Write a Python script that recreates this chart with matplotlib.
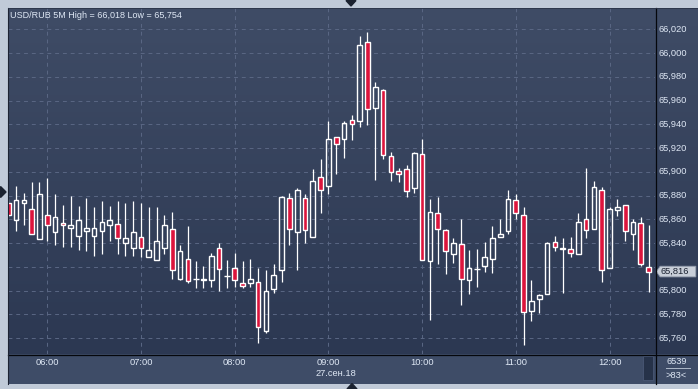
import numpy as np
import pandas as pd
import matplotlib
matplotlib.use("Agg")
import matplotlib.pyplot as plt
from matplotlib.patches import Rectangle, Polygon
from matplotlib.colors import LinearSegmentedColormap

# --- USD/RUB 5M candles, 27.09.2018 05:35 .. 12:25 ---
times = pd.date_range("2018-09-27 05:35", periods=83, freq="5min")

opens = [65.874, 65.859, 65.874, 65.869, 65.843, 65.864, 65.849, 65.857, 65.853, 65.846,
         65.850, 65.846, 65.850, 65.855, 65.856, 65.840, 65.836, 65.845, 65.828, 65.826,
         65.836, 65.852, 65.810, 65.827, 65.810, 65.809, 65.809, 65.836, 65.812, 65.819,
         65.806, 65.806, 65.807, 65.766, 65.801, 65.817, 65.878, 65.849, 65.878, 65.845,
         65.896, 65.888, 65.929, 65.928, 65.944, 65.943, 66.009, 65.954, 65.969, 65.913,
         65.901, 65.902, 65.886, 65.915, 65.825, 65.865, 65.851, 65.831, 65.839, 65.809,
         65.818, 65.821, 65.827, 65.845, 65.850, 65.876, 65.864, 65.783, 65.793, 65.797,
         65.841, 65.835, 65.835, 65.831, 65.860, 65.852, 65.885, 65.819, 65.868, 65.872,
         65.848, 65.857, 65.820]
highs = [65.877, 65.888, 65.882, 65.891, 65.891, 65.895, 65.881, 65.872, 65.880, 65.871,
         65.878, 65.870, 65.875, 65.871, 65.875, 65.874, 65.875, 65.874, 65.870, 65.870,
         65.864, 65.866, 65.838, 65.854, 65.825, 65.821, 65.832, 65.840, 65.826, 65.832,
         65.825, 65.827, 65.819, 65.817, 65.822, 65.880, 65.882, 65.886, 65.881, 65.902,
         65.911, 65.943, 65.929, 65.943, 65.948, 66.014, 66.018, 65.976, 65.970, 65.917,
         65.903, 65.906, 65.917, 65.928, 65.877, 65.879, 65.852, 65.844, 65.860, 65.834,
         65.835, 65.841, 65.854, 65.860, 65.885, 65.881, 65.870, 65.809, 65.797, 65.841,
         65.846, 65.844, 65.845, 65.865, 65.903, 65.892, 65.887, 65.870, 65.877, 65.872,
         65.860, 65.862, 65.855]
lows = [65.862, 65.850, 65.855, 65.848, 65.843, 65.842, 65.838, 65.837, 65.837, 65.834,
        65.833, 65.829, 65.831, 65.842, 65.831, 65.829, 65.829, 65.828, 65.828, 65.826,
        65.831, 65.810, 65.809, 65.806, 65.802, 65.802, 65.803, 65.800, 65.802, 65.803,
        65.802, 65.803, 65.756, 65.764, 65.798, 65.807, 65.838, 65.817, 65.840, 65.845,
        65.865, 65.881, 65.898, 65.912, 65.927, 65.938, 65.939, 65.893, 65.911, 65.892,
        65.891, 65.879, 65.882, 65.826, 65.775, 65.822, 65.814, 65.823, 65.788, 65.797,
        65.803, 65.816, 65.815, 65.845, 65.848, 65.860, 65.754, 65.774, 65.781, 65.797,
        65.833, 65.798, 65.828, 65.831, 65.844, 65.852, 65.807, 65.819, 65.863, 65.842,
        65.834, 65.821, 65.799]
closes = [65.864, 65.876, 65.876, 65.848, 65.881, 65.855, 65.862, 65.855, 65.855, 65.859,
          65.853, 65.853, 65.858, 65.859, 65.844, 65.844, 65.849, 65.836, 65.834, 65.842,
          65.855, 65.817, 65.833, 65.808, 65.810, 65.810, 65.829, 65.818, 65.812, 65.809,
          65.804, 65.810, 65.769, 65.800, 65.813, 65.879, 65.852, 65.885, 65.851, 65.892,
          65.885, 65.928, 65.923, 65.941, 65.940, 66.007, 65.953, 65.971, 65.914, 65.900,
          65.898, 65.884, 65.916, 65.826, 65.866, 65.852, 65.833, 65.840, 65.810, 65.819,
          65.818, 65.828, 65.844, 65.848, 65.877, 65.865, 65.782, 65.791, 65.796, 65.840,
          65.837, 65.836, 65.832, 65.858, 65.851, 65.887, 65.817, 65.869, 65.870, 65.850,
          65.858, 65.822, 65.816]

price_ticks = [65.760, 65.780, 65.800, 65.820, 65.840, 65.860, 65.880, 65.900,
               65.920, 65.940, 65.960, 65.980, 66.000, 66.020]
title = "USD/RUB 5M High = 66,018 Low = 65,754"
date_label = "27.сен.18"
bars_total = "6539"
bars_shown = ">83<"

# --- colours ---
OUTER = "#c0cad8"
BG_TOP, BG_BOT = "#3f4c66", "#2c3852"
AXIS_BG = "#3e4c67"
GRID = "#5a6784"
TXT = "#dfe8f5"
RED = "#dc143c"
WHITE = "#ffffff"
FS = 6.7

W, H = 698, 389


def px_box(x0, y0, x1, y1):
    return [x0 / W, 1 - y1 / H, (x1 - x0) / W, (y1 - y0) / H]


plt.rcParams["font.family"] = ["Liberation Sans", "DejaVu Sans"]
fig = plt.figure(figsize=(W / 100, H / 100), dpi=100, facecolor=OUTER)

n = len(opens)
idx = np.arange(n)
xlim = (-0.03, 82.82)
ylim = (65.7466, 66.0379)
grad = LinearSegmentedColormap.from_list("bg", [BG_TOP, BG_BOT])
ramp = np.linspace(0, 1, 256).reshape(-1, 1)

# main price panel
ax = fig.add_axes(px_box(8, 8, 655, 354))
ax.set_xlim(*xlim)
ax.set_ylim(*ylim)
ax.imshow(ramp, cmap=grad, extent=[xlim[0], xlim[1], ylim[0], ylim[1]],
          aspect="auto", zorder=0)
hour_pos = [i for i, t in enumerate(times) if t.minute == 0]
ax.set_xticks(hour_pos)
ax.set_yticks(price_ticks)
ax.grid(True, color=GRID, lw=0.7, ls=(0, (4, 4)))
ax.tick_params(length=0, labelbottom=False, labelleft=False)
for s in ax.spines.values():
    s.set_visible(False)

o = np.array(opens)
c = np.array(closes)
top = np.maximum(o, c)
bot = np.minimum(o, c)
ax.vlines(idx, top, highs, color=WHITE, lw=0.9, zorder=3)
ax.vlines(idx, lows, bot, color=WHITE, lw=0.9, zorder=3)
bw = 0.6
for i in idx:
    if o[i] == c[i]:
        ax.hlines(o[i], i - bw / 2 - 0.08, i + bw / 2 + 0.08, color=WHITE, lw=1.0, zorder=4)
        continue
    fc = RED if c[i] < o[i] else "none"
    ax.add_patch(Rectangle((i - bw / 2, bot[i]), bw, top[i] - bot[i],
                           facecolor=fc, edgecolor=WHITE, lw=1.0, zorder=4))

ax.text(0.003, 0.978, title, transform=ax.transAxes, color=TXT, fontsize=6.5,
        ha="left", va="center", zorder=6)

# right price scale
ax_r = fig.add_axes(px_box(655, 8, 698, 354))
ax_r.set_xlim(0, 1)
ax_r.set_ylim(*ylim)
ax_r.imshow(ramp, cmap=grad, extent=[0, 1, ylim[0], ylim[1]], aspect="auto", zorder=0)
ax_r.axis("off")
last = closes[-1]
for v in price_ticks:
    # the tick right under the last-price flag is covered by it
    if abs(v - last) < 0.006:
        continue
    ax_r.text(0.07, v, f"{v:.3f}".replace(".", ","), transform=ax_r.get_yaxis_transform(),
              color=TXT, fontsize=FS, ha="left", va="center")

# last price marker
hh = 0.0045
ax_r.add_patch(Polygon([(0.03, last), (0.12, last + hh), (0.95, last + hh),
                        (0.95, last - hh), (0.12, last - hh)], closed=True,
                       facecolor="#c8ced8", edgecolor="#8d97a8", lw=0.6, zorder=5))
ax_r.text(0.12, last, f"{last:.3f}".replace(".", ","), color="#1a2130",
          fontsize=FS, ha="left", va="center", zorder=6)

# time axis
ax_b = fig.add_axes(px_box(8, 354, 655, 384))
ax_b.set_xlim(*xlim)
ax_b.set_ylim(0, 1)
ax_b.set_facecolor(AXIS_BG)
ax_b.set_xticks([])
ax_b.set_yticks([])
for s in ax_b.spines.values():
    s.set_visible(False)
for p in hour_pos:
    ax_b.text(p, 0.72, times[p].strftime("%H:%M"), color=TXT, fontsize=FS,
              ha="center", va="center")
nine = [p for p in hour_pos if times[p].hour == 9][0]
ax_b.text(nine - 1.6, 0.34, date_label, color=TXT, fontsize=FS, ha="left", va="center")
ax_b.add_patch(Rectangle((81.3, 0.12), 1.2, 0.8, facecolor="#263249",
                         edgecolor="#4a5875", lw=0.6, clip_on=False))

# corner box
ax_c = fig.add_axes(px_box(655, 354, 698, 384))
ax_c.set_xlim(0, 1)
ax_c.set_ylim(0, 1)
ax_c.set_facecolor(AXIS_BG)
ax_c.set_xticks([])
ax_c.set_yticks([])
for s in ax_c.spines.values():
    s.set_visible(False)
ax_c.text(0.5, 0.76, bars_total, color=TXT, fontsize=FS, ha="center", va="center")
ax_c.plot([0.25, 0.82], [0.54, 0.54], color="#aeb9c9", lw=0.7)
ax_c.text(0.5, 0.30, bars_shown, color=TXT, fontsize=FS, ha="center", va="center")

# frame lines and the little UI arrows, in pixel coordinates
ov = fig.add_axes([0, 0, 1, 1], zorder=10)
ov.set_xlim(0, W)
ov.set_ylim(H, 0)
ov.axis("off")
ov.patch.set_visible(False)
ov.plot([655.5, 655.5], [8, 384], color="#05070c", lw=0.9)
ov.plot([8, 698], [354.5, 354.5], color="#05070c", lw=0.9)
ov.plot([7.5, 7.5], [7.5, 384], color="#1c2333", lw=0.8)
ov.plot([7.5, 698], [7.5, 7.5], color="#2a3348", lw=0.6)
ov.add_patch(Polygon([(346, 0.5), (356, 0.5), (351, 6)], color="#1b2230"))
ov.add_patch(Polygon([(347, 389), (357, 389), (352, 383.5)], color="#1b2230"))
ov.add_patch(Polygon([(0.5, 186.5), (0.5, 197.5), (6, 192)], color="#1b2230"))

fig.savefig("out.png", dpi=100, facecolor=OUTER)
plt.close(fig)
